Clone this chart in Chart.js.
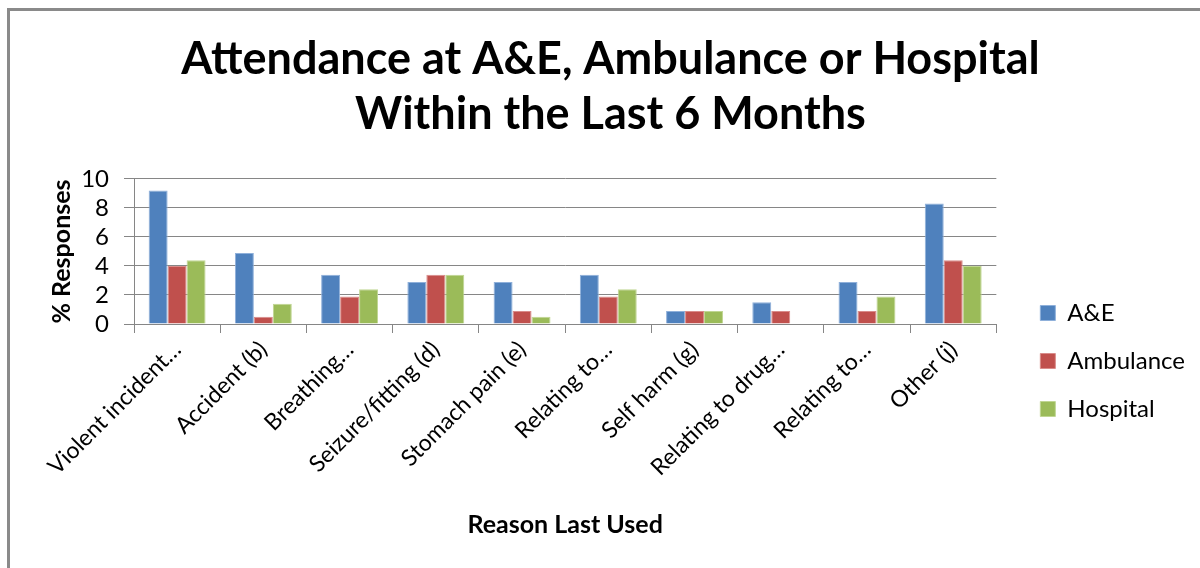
<!DOCTYPE html>
<html>
<head>
<meta charset="utf-8">
<title>Attendance at A&amp;E, Ambulance or Hospital</title>
<script src="https://cdn.jsdelivr.net/npm/chart.js@4"></script>
<style>
  html, body { margin: 0; padding: 0; background: #fff; }
  #wrap { position: relative; width: 1200px; height: 568px; overflow: hidden; }
  #frame {
    position: absolute; left: 7px; top: 8px; width: 1300px; height: 700px;
    border-left: 3px solid #8a8a8a; border-top: 3px solid #8a8a8a;
  }
  #attendChart { position: absolute; left: 0; top: 0; }
</style>
</head>
<body>
<div id="wrap">
  <div id="frame"></div>
  <canvas id="attendChart" width="1200" height="568"></canvas>
</div>
<script>
// ─── DATA ──────────────────────────────────────────────────
const reasons = [
  'Violent incident…', 'Accident (b)', 'Breathing…', 'Seizure/fitting (d)',
  'Stomach pain (e)', 'Relating to…', 'Self harm (g)', 'Relating to drug…',
  'Relating to…', 'Other (j)'
];
const aeValues        = [9.2, 4.9, 3.4, 2.9, 2.9, 3.4, 0.9, 1.5, 2.9, 8.3];
const ambulanceValues = [4.0, 0.5, 1.9, 3.4, 0.9, 1.9, 0.9, 0.9, 0.9, 4.4];
const hospitalValues  = [4.4, 1.4, 2.4, 3.4, 0.5, 2.4, 0.9, 0.0, 1.9, 4.0];
const yTicks = [0, 2, 4, 6, 8, 10];

// ─── STYLE ─────────────────────────────────────────────────
const FONT = 'Lato, "Open Sans", sans-serif';
const GRID = '#868686';
const PLOT_LEFT = 134;
const PLOT_BOTTOM = 324;

// moves the legend down beside the x labels and centres the title on the frame
const boxShift = {
  id: 'boxShift',
  afterLayout(chart) {
    const lg = chart.legend;
    if (lg) {
      lg.top += 77; lg.bottom += 77;
      lg.left += 20; lg.right += 20;
    }
    const tb = chart.titleBlock;
    if (tb) { tb.left += 23; tb.right += 23; }
  }
};

const ctx = document.getElementById('attendChart').getContext('2d');
new Chart(ctx, {
  type: 'bar',
  data: {
    labels: reasons,
    datasets: [
      { label: 'A&E', data: aeValues, backgroundColor: '#4f81bd', borderColor: '#8fb0da' },
      { label: 'Ambulance', data: ambulanceValues, backgroundColor: '#c0504d', borderColor: '#d98c8a' },
      { label: 'Hospital', data: hospitalValues, backgroundColor: '#9bbb59', borderColor: '#c0d693' }
    ].map(ds => Object.assign(ds, {
      borderWidth: 1,
      categoryPercentage: 0.66,
      barPercentage: 1.0
    }))
  },
  options: {
    responsive: false,
    animation: false,
    devicePixelRatio: 1,
    layout: { padding: { left: 0, right: 25, top: 0, bottom: 0 } },
    plugins: {
      title: {
        display: true,
        text: ['Attendance at A&E, Ambulance or Hospital', 'Within the Last 6 Months'],
        color: '#000',
        font: { family: FONT, size: 45, weight: 'bold', lineHeight: 1.244 },
        padding: { top: 31, bottom: 36 }
      },
      legend: {
        position: 'right',
        labels: {
          color: '#000',
          font: { family: FONT, size: 24 },
          boxWidth: 15,
          boxHeight: 15,
          padding: 24
        }
      },
      tooltip: { enabled: false }
    },
    scales: {
      x: {
        afterFit: s => { s.height = 568 - PLOT_BOTTOM; },
        grid: { offset: true, drawOnChartArea: false, drawTicks: true, tickLength: 9, color: GRID },
        border: { color: GRID, width: 1 },
        ticks: {
          color: '#000',
          font: { family: FONT, size: 23 },
          minRotation: 45,
          maxRotation: 45,
          autoSkip: false,
          padding: 3
        },
        title: {
          display: true,
          text: 'Reason Last Used',
          color: '#000',
          font: { family: FONT, size: 25, weight: 'bold' },
          padding: { top: 0, bottom: 28 }
        }
      },
      y: {
        min: 0,
        max: 10,
        afterFit: s => { s.width = PLOT_LEFT; },
        afterBuildTicks: s => { s.ticks = yTicks.map(v => ({ value: v })); },
        grid: { color: GRID, tickLength: 10 },
        border: { color: GRID, width: 1 },
        ticks: {
          color: '#000',
          font: { family: FONT, size: 24 },
          autoSkip: false,
          padding: 15
        },
        title: {
          display: true,
          text: '% Responses',
          color: '#000',
          font: { family: FONT, size: 25, weight: 'bold' },
          padding: { top: 47, bottom: 0 }
        }
      }
    }
  },
  plugins: [boxShift]
});
</script>
</body>
</html>
